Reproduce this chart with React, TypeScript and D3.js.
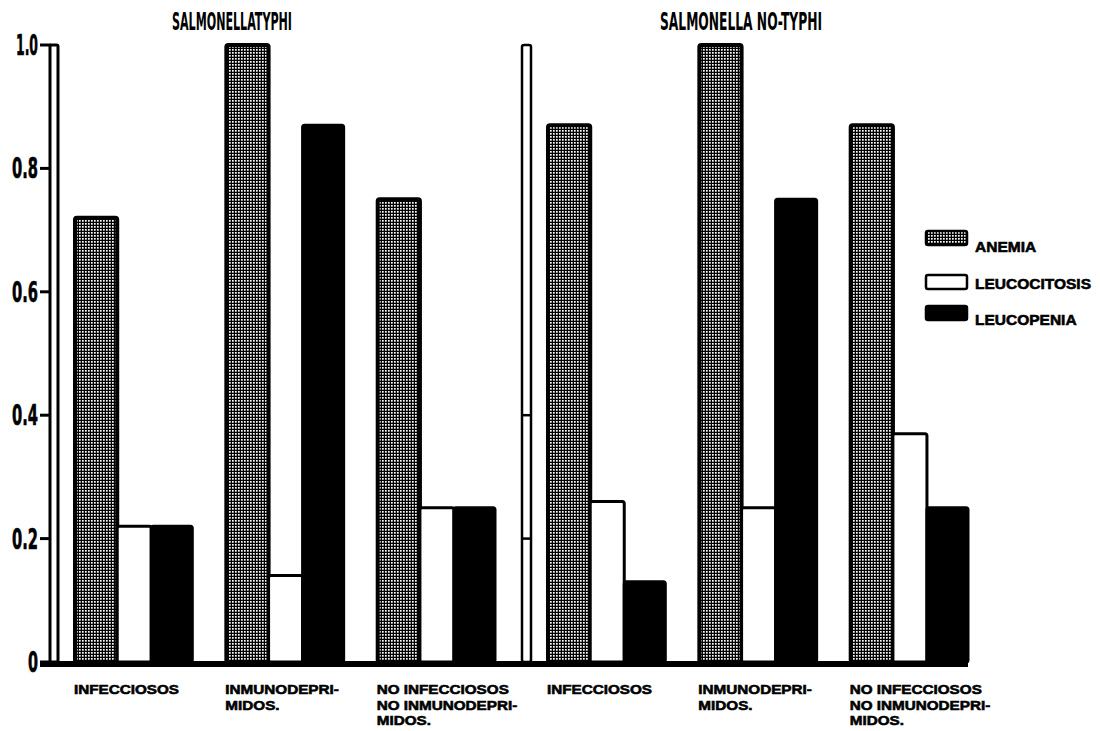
import React from "react";
import * as d3 from "d3";

// ---- data ----
const groups = ["INFECCIOSOS", "INMUNODEPRIMIDOS", "NO INFECCIOSOS NO INMUNODEPRIMIDOS"];
const groupLabelLines = [["INFECCIOSOS"], ["INMUNODEPRI-", "MIDOS."], ["NO INFECCIOSOS", "NO INMUNODEPRI-", "MIDOS."]];
const series = ["ANEMIA", "LEUCOCITOSIS", "LEUCOPENIA"];
const panelTitles = ["SALMONELLATYPHI", "SALMONELLA NO-TYPHI"];

const typhiAnemia = [0.72, 1.0, 0.75];
const typhiLeucocitosis = [0.22, 0.14, 0.25];
const typhiLeucopenia = [0.22, 0.87, 0.25];

const noTyphiAnemia = [0.87, 1.0, 0.87];
const noTyphiLeucocitosis = [0.26, 0.25, 0.37];
const noTyphiLeucopenia = [0.13, 0.75, 0.25];

const yTicks = [0, 0.2, 0.4, 0.6, 0.8, 1.0];
const yTickLabels = ["0", "0.2", "0.4", "0.6", "0.8", "1.0"];
const dividerTicks = [0.2, 0.4];

// ---- layout ----
const W = 1100;
const H = 731;
const panelRanges: [number, number][] = [[75, 495], [548, 968]];
const seriesWeights = [0.36, 0.29, 0.35];
const titleX = [172, 660];
const titleLengths = [120, 162];
const FONT = "'Liberation Sans', Arial, sans-serif";
const COND = "'DejaVu Sans Condensed', 'Liberation Sans Narrow', sans-serif";

function tickTextLength(s: string) {
  let w = 0;
  for (const c of s) w += c === "1" ? 6 : c === "." ? 6 : 10;
  return w;
}

export default function App() {
  const y = d3.scaleLinear().domain([0, 1]).range([662, 45]);
  const panels = [
    [typhiAnemia, typhiLeucocitosis, typhiLeucopenia],
    [noTyphiAnemia, noTyphiLeucocitosis, noTyphiLeucopenia],
  ];
  const fills = ["url(#grid)", "#fff", "#000"];

  return (
    <svg width={W} height={H} style={{ position: "absolute", left: 0, top: 0, background: "#fff" }}>
      <defs>
        <pattern id="grid" patternUnits="userSpaceOnUse" width={3} height={3}>
          <rect width={3} height={3} fill="#000" />
          <rect x={1} y={1} width={1.7} height={1.7} fill="#fff" />
        </pattern>
      </defs>
      <rect width={W} height={H} fill="#fff" />

      {/* left axis */}
      <rect x={50} y={y(1)} width={8} height={y(0) - y(1)} fill="#fff" stroke="#000" strokeWidth={3} rx={1.5} />
      {yTicks.map((t, i) => (
        <g key={"yt" + i}>
          <line x1={40} x2={51} y1={y(t)} y2={y(t)} stroke="#000" strokeWidth={3} />
          <text
            x={38}
            y={y(t) + 10}
            textAnchor="end"
            fontFamily={COND}
            fontWeight="bold"
            fontSize={28}
            stroke="#000"
            strokeWidth={0.6}
            textLength={tickTextLength(yTickLabels[i])}
            lengthAdjust="spacingAndGlyphs"
          >
            {yTickLabels[i]}
          </text>
        </g>
      ))}

      {/* divider */}
      <rect x={522} y={y(1)} width={9} height={y(0) - y(1)} fill="#fff" stroke="#000" strokeWidth={2.5} rx={2} />
      {dividerTicks.map((t, i) => (
        <line key={"dt" + i} x1={522} x2={531} y1={y(t)} y2={y(t)} stroke="#000" strokeWidth={2.5} />
      ))}

      {panels.map((vals, p) => {
        const xg = d3.scaleBand<string>().domain(groups).range(panelRanges[p]).paddingInner(0.225);
        const bw = xg.bandwidth();
        const cum = [0, seriesWeights[0], seriesWeights[0] + seriesWeights[1], 1];
        const xs = d3.scaleLinear().domain([0, 1]).range([0, bw]);
        return (
          <g key={"p" + p}>
            <text
              x={titleX[p]}
              y={30}
              fontFamily={COND}
              fontWeight="bold"
              fontSize={24}
              textLength={titleLengths[p]}
              lengthAdjust="spacingAndGlyphs"
            >
              {panelTitles[p]}
            </text>
            {groups.map((g, gi) => {
              const gx = xg(g) as number;
              return (
                <g key={g}>
                  {series.map((s, si) => {
                    const v = vals[si][gi];
                    const x0 = gx + xs(cum[si]);
                    const x1 = gx + xs(cum[si + 1]);
                    return (
                      <rect
                        key={s}
                        x={x0}
                        y={y(v)}
                        width={x1 - x0}
                        height={y(0) - y(v)}
                        fill={fills[si]}
                        stroke="#000"
                        strokeWidth={si === 0 ? 4 : 3}
                        rx={2}
                      />
                    );
                  })}
                  {groupLabelLines[gi].map((ln, li) => (
                    <text
                      key={li}
                      transform={`translate(${gx - 1},${694 + li * 15.5}) scale(1.13,1)`}
                      fontFamily={FONT}
                      fontWeight="bold"
                      fontSize={13.5}
                      stroke="#000"
                      strokeWidth={0.6}
                    >
                      {ln}
                    </text>
                  ))}
                </g>
              );
            })}
          </g>
        );
      })}

      {/* baseline */}
      <rect x={40} y={661} width={928} height={6} fill="#000" />

      {/* legend */}
      {series.map((s, i) => {
        const ly = [231, 275, 306][i];
        return (
          <g key={"lg" + i}>
            <rect x={926} y={ly} width={41} height={14} fill={fills[i]} stroke="#000" strokeWidth={2.5} rx={2} />
            <text
              x={975}
              y={ly + [21, 14, 19][i]}
              fontFamily={FONT}
              fontWeight="bold"
              fontSize={15.5}
              stroke="#000"
              strokeWidth={0.6}
            >
              {s}
            </text>
          </g>
        );
      })}
    </svg>
  );
}
